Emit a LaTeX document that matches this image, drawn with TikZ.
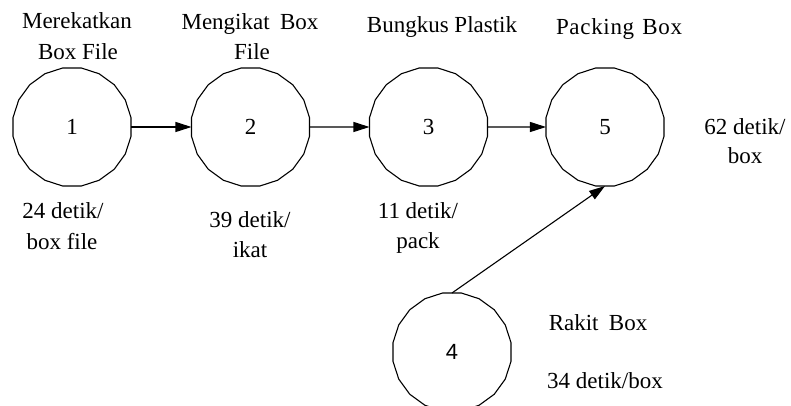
\documentclass[tikz,border=0pt]{standalone}
\usepackage{fontspec}
\setmainfont{Liberation Serif}
\newfontfamily\sansf{Liberation Sans}
\usetikzlibrary{shapes.geometric,arrows.meta}
\begin{document}
\begin{tikzpicture}[x=1pt,y=-1pt,
  proc/.style={draw,line width=1.1pt,regular polygon,regular polygon sides=20,
    minimum size=119.5pt,inner sep=0pt,outer sep=0pt,font=\fontsize{23}{28}\selectfont},
  lbl/.style={anchor=base,inner sep=0pt,font=\fontsize{23}{28}\selectfont},
  flow/.style={line width=1.1pt,-{Triangle[length=16pt,width=10pt]}}]
\useasboundingbox (0,0) rectangle (791,406);
% process circles
\node[proc] (c1) at (72,127) {1};
\node[proc] (c2) at (250.5,127) {2};
\node[proc] (c3) at (428.5,127) {3};
\node[proc] (c5) at (605,127) {5};
\node[proc,font=\sansf\fontsize{22}{26}\selectfont] (c4) at (452,352) {4};
% connectors
\draw[flow] (c1.east) -- (c2.west);
\draw[flow] (c2.east) -- (c3.west);
\draw[flow] (c3.east) -- (c5.west);
\draw[flow] (c4.north) -- (c5.south);
% titles
\node[lbl] (t1a) at (77,29) {Merekatkan};
\node[lbl] (t1b) at (78,60) {Box File};
\node[lbl] (t2a) at (250,30) {Mengikat\hspace{0.45em}Box};
\node[lbl] (t2b) at (252,60) {File};
\node[lbl] (t3) at (442,33) {Bungkus Plastik};
\node[lbl] (t5) at (619,35) {\addfontfeature{LetterSpace=3}Packing\hspace{0.35em}Box};
\node[lbl] (r1) at (598,330) {Rakit\hspace{0.45em}Box};
% times
\node[lbl] (d1a) at (63,218) {24 detik/};
\node[lbl] (d1b) at (62,249) {box file};
\node[lbl] (d2a) at (250,227) {39 detik/};
\node[lbl] (d2b) at (250,257) {ikat};
\node[lbl] (d3a) at (418,218) {11 detik/};
\node[lbl] (d3b) at (418,248) {pack};
\node[lbl] (d5a) at (745,135) {62 detik/};
\node[lbl] (d5b) at (745,164) {box};
\node[lbl] (r2) at (605,388) {34 detik/box};
\end{tikzpicture}
\end{document}
